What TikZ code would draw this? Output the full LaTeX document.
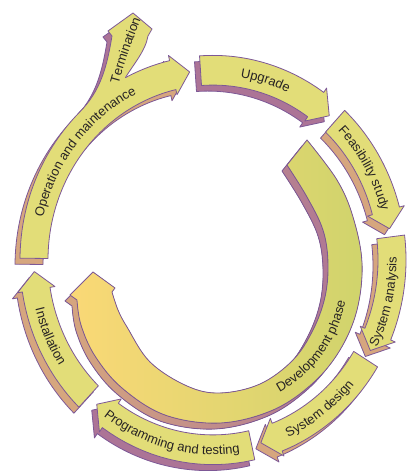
\documentclass[tikz,border=0pt]{standalone}
\usepackage{fontspec}
\newfontfamily\lblfont{Liberation Sans}
\usetikzlibrary{decorations.text}

\definecolor{bandface}{RGB}{226,221,120}
\definecolor{bandedge}{RGB}{125,88,150}
\definecolor{sidetan}{RGB}{214,166,126}
\definecolor{sidemauve}{RGB}{172,116,150}
\definecolor{devwarm}{RGB}{250,216,118}
\definecolor{devolive}{RGB}{208,212,108}
\definecolor{labelink}{RGB}{40,36,36}

\newcommand\lbl{\lblfont\fontsize{13bp}{15bp}\selectfont}

% outer ring: radii 165..193, y stretched by 1.06
\newcommand\ringpath[2]{(#1:193 and 204.6) arc[start angle=#1, end angle=#2, x radius=193, y radius=204.6]
  -- (#2:198 and 209.9) -- ({#2-5.5}:179 and 189.7) -- (#2:160 and 169.6)
  -- (#2:165 and 174.9) arc[start angle=#2, end angle=#1, x radius=165, y radius=174.9] -- cycle}
\newcommand\ringseg[3]{%
  \filldraw[bandline, fill=#3, shift={(-5,-6)}] \ringpath{#1}{#2};
  \filldraw[bandline, fill=bandface] \ringpath{#1}{#2};}

\newcommand\devpath{plot[smooth, tension=.6] coordinates {(94,120) (124,80) (140,43) (149,-3) (144,-50) (127,-90)
    (100,-123) (60,-150) (7,-163) (-48,-155) (-91,-128) (-118,-96) (-132,-65) (-136,-40)}
  -- (-143,-35) -- (-120,-12) -- (-98,-28)
  -- plot[smooth, tension=.6] coordinates {(-101,-32) (-95,-50) (-86,-67) (-63,-102) (-26,-126) (7,-133)
    (47,-124) (80,-100) (100,-70) (112,-37) (115,-3) (110,30) (94,63) (74,95)} -- cycle}

\newcommand\termpath{(134:193 and 204.6) .. controls (-112,169) and (-106,194) .. (-101,224)
  -- (-105,229) -- (-80,247) -- (-61,231) -- (-65,224) .. controls (-67.5,209) and (-80,195) .. (117:193 and 204.6)}

\tikzset{
  bandline/.style={draw=bandedge, line width=0.8bp, line join=round},
  bandtext/.style={decorate, decoration={text along path, text align=center, text color=labelink, text={|\lbl|#1}}}
}
\newcommand\cwtext[3]{\path[bandtext={#3}] (#1:174.5 and 185) arc[start angle=#1, end angle=#2, x radius=174.5, y radius=185];}
\newcommand\ccwtext[3]{\path[bandtext={#3}] (#1:183.5 and 194.5) arc[start angle=#1, end angle=#2, x radius=183.5, y radius=194.5];}

\begin{document}
\begin{tikzpicture}[x=1bp, y=1bp]
\useasboundingbox (-213,-213) rectangle (196,260);

% development phase
\filldraw[bandline, left color=sidetan, right color=sidemauve, shift={(-5,-6)}] \devpath;
\filldraw[bandline, left color=devwarm, right color=devolive] \devpath;

% cycle
\ringseg{94}{55}{sidemauve}
\ringseg{47}{15}{sidetan}
\ringseg{7}{-23}{sidetan}
\ringseg{-31.5}{-69}{sidetan}
\ringseg{-77.5}{-125}{sidemauve}
\ringseg{-134}{-171}{sidetan}
\filldraw[bandline, fill=sidemauve, shift={(-5,-6)}] \termpath -- cycle;
\ringseg{179.5}{103}{sidetan}
\fill[bandface] \termpath -- (117:178 and 188.7) -- (134:178 and 188.7) -- cycle;
\draw[bandline] \termpath;

% labels
\cwtext{98}{48}{Upgrade}
\cwtext{55}{5}{Feasibility study}
\ccwtext{-38}{12}{System analysis}
\ccwtext{-78}{-28}{System design}
\ccwtext{-134}{-74}{Programming and testing}
\ccwtext{-181}{-131}{Installation}
\cwtext{181}{101}{Operation and maintenance}
\path[bandtext={Termination}] (-96,170) .. controls (-86,205) .. (-70,246);
\path[bandtext={Development phase}, shift={(4.5,-17.8)}] (-74:130) arc[start angle=-74, end angle=2, radius=130];
\end{tikzpicture}
\end{document}
